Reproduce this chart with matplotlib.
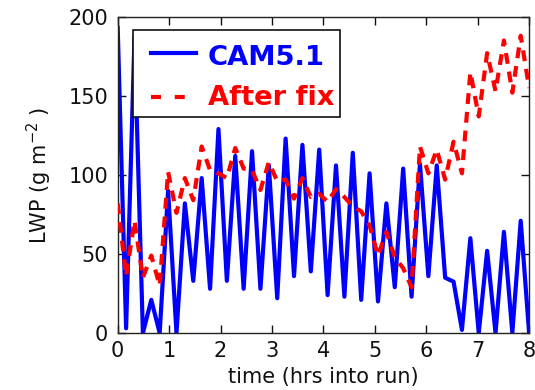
import numpy as np
import matplotlib
matplotlib.use("Agg")
import matplotlib.pyplot as plt
from matplotlib.patches import Rectangle

# output every 8/49 hr over the first 8 hours of the run
time_hrs = np.linspace(0, 8, 50)

lwp_cam51 = [193, 3, 187, 0, 21, 0, 90, 0, 82, 33,
             98, 28, 129, 33, 112, 28, 115, 28, 106, 22,
             123, 36, 119, 39, 116, 24, 106, 23, 114, 21,
             101, 20, 82, 29, 104, 23, 107, 36, 106, 35,
             32.5, 2, 60, 0, 52, 0, 64, 0, 71, 0]

lwp_fix = [82, 36, 71, 35, 49, 30, 102, 76, 98, 84,
           118, 103, 101, 98, 117, 104, 103, 90.5, 108, 96,
           97, 85, 98, 86, 88, 83, 91, 86, 80, 77,
           68, 49, 64, 48, 41, 29, 118, 101, 116, 97,
           121, 101, 165, 137, 177, 153, 185, 152, 188, 155]

series_labels = ["CAM5.1", "After fix"]
x_ticks = [0, 1, 2, 3, 4, 5, 6, 7, 8]
y_ticks = [0, 50, 100, 150, 200]

BLUE = "#0000ff"
RED = "#ff0000"
LW = 3.0
DASH = (2.6, 1.9)

fig = plt.figure(figsize=(5.35, 3.9), dpi=100)
ax = fig.add_axes([0.220, 0.146, 0.769, 0.811])

ax.plot(time_hrs, lwp_cam51, color=BLUE, linewidth=LW, zorder=2)
ax.plot(time_hrs, lwp_fix, color=RED, linewidth=LW, dashes=DASH, zorder=3)

ax.set_xlim(0, 8)
ax.set_ylim(0, 200)
ax.set_xticks(x_ticks)
ax.set_yticks(y_ticks)
ax.tick_params(direction="in", top=True, right=True, length=5.5,
               width=1.0, labelsize=15, colors="#111111")
ax.tick_params(axis="x", pad=6)
ax.tick_params(axis="y", pad=7)
for sp in ax.spines.values():
    sp.set_linewidth(1.0)
    sp.set_color("#222222")

ax.set_xlabel("time (hrs into run)", fontsize=15, labelpad=4, color="#111111")
ax.set_ylabel("LWP (g m$^{-2}$ )", fontsize=15, labelpad=10, color="#111111")

# legend box drawn by hand so the bold labels sit where they should
tr = ax.transAxes
ax.add_patch(Rectangle((0.0365, 0.683), 0.503, 0.275, transform=tr,
                       facecolor="white", edgecolor="#111111",
                       linewidth=1.2, zorder=5, clip_on=False))
rows = [(series_labels[0], BLUE, None, 0.884, 0.847),
        (series_labels[1], RED, (2.4, 3.3), 0.747, 0.721)]
for label, color, dashes, y_line, y_text in rows:
    handle, = ax.plot([0.0817, 0.1911], [y_line, y_line], transform=tr,
                      color=color, linewidth=LW, zorder=6, clip_on=False)
    if dashes:
        handle.set_dashes(dashes)
    ax.text(0.2195, y_text, label, transform=tr, color=color,
            fontsize=19.7, fontweight="bold", family="DejaVu Sans",
            va="baseline", ha="left", zorder=6)

fig.savefig("out.png", dpi=100)
